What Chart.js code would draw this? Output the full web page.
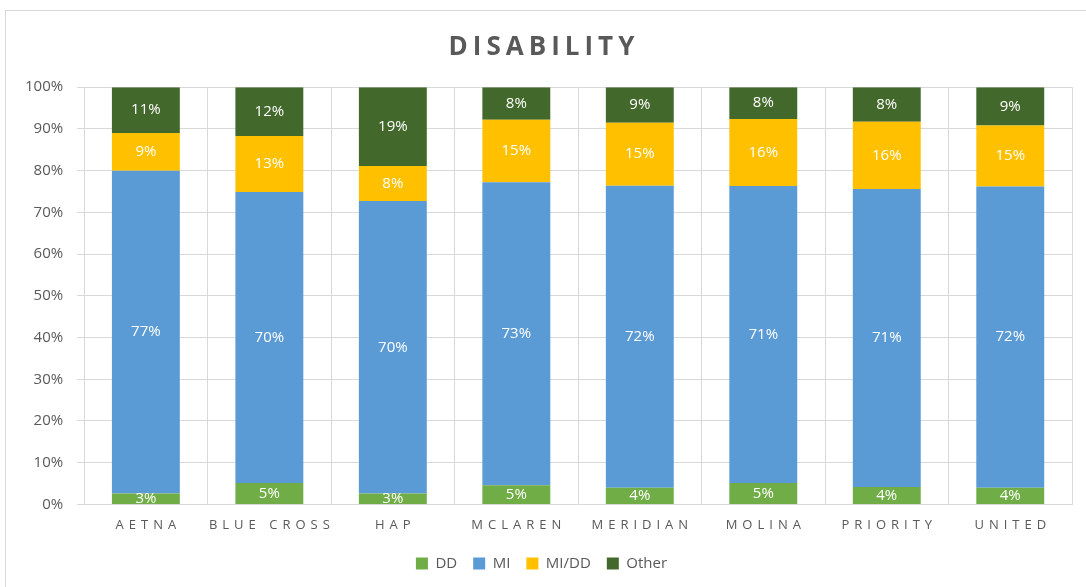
<!DOCTYPE html>
<html>
<head>
<meta charset="utf-8">
<title>Disability</title>
<script src="https://cdn.jsdelivr.net/npm/chart.js@4/dist/chart.umd.min.js"></script>
<style>
  html, body { margin: 0; padding: 0; background: #fff; overflow: hidden; }
  #frame { position: absolute; left: 5px; top: 10px; width: 1100px; height: 600px; border: 1px solid #d9d9d9; }
  #wrap { position: absolute; left: 0; top: 0; width: 1086px; height: 587px; }
</style>
</head>
<body>
<div id="frame"></div>
<div id="wrap"><canvas id="disabilityChart"></canvas></div>
<script>
// plans along the x axis
const plans = ["AETNA", "BLUE CROSS", "HAP", "MCLAREN", "MERIDIAN", "MOLINA", "PRIORITY", "UNITED"];

// share of members per plan (%)
const ddValues    = [2.6, 5.1, 2.6, 4.6, 4.0, 5.1, 4.2, 4.0];
const miValues    = [77.4, 69.8, 70.1, 72.6, 72.4, 71.2, 71.4, 72.2];
const middValues  = [9.0, 13.4, 8.4, 15.0, 15.1, 16.1, 16.1, 14.6];
const otherValues = [11.0, 11.7, 18.9, 7.8, 8.5, 7.6, 8.3, 9.2];

const yTicks = [0, 10, 20, 30, 40, 50, 60, 70, 80, 90, 100];

const textGray = "#595959";
const gridGray = "#d9d9d9";

// Excel style spaced capitals for the title and the plan names
const letterSpacingPlugin = {
  id: "letterSpacing",
  beforeDraw(chart) {
    const x = chart.scales.x;
    if (x && !x._spaced) {
      const orig = x.drawLabels;
      x.drawLabels = function (area) {
        const ctx = this.ctx;
        ctx.save();
        ctx.letterSpacing = "5px";
        ctx.translate(2.5, 0);
        orig.call(this, area);
        ctx.restore();
      };
      x._spaced = true;
    }
    const t = chart.titleBlock;
    if (t && !t._spaced) {
      const origT = t.draw;
      t.draw = function () {
        const ctx = this.ctx;
        ctx.save();
        ctx.letterSpacing = "5px";
        ctx.translate(2.5, 0);
        origT.call(this);
        ctx.restore();
      };
      t._spaced = true;
    }
  }
};

// percentage labels in the middle of each segment
const segmentLabels = {
  id: "segmentLabels",
  afterDatasetsDraw(chart) {
    const ctx = chart.ctx;
    const area = chart.chartArea;
    ctx.save();
    ctx.beginPath();
    ctx.rect(area.left, area.top, area.right - area.left, area.bottom - area.top);
    ctx.clip();
    ctx.font = "15px 'Open Sans'";
    ctx.fillStyle = "#ffffff";
    ctx.textAlign = "center";
    ctx.textBaseline = "middle";
    chart.data.datasets.forEach((ds, i) => {
      const meta = chart.getDatasetMeta(i);
      meta.data.forEach((bar, j) => {
        const v = ds.data[j];
        ctx.fillText(Math.round(v) + "%", bar.x, (bar.y + bar.base) / 2);
      });
    });
    ctx.restore();
  }
};

function renderChart() {
  const ctx = document.getElementById("disabilityChart").getContext("2d");

  new Chart(ctx, {
    type: "bar",
    data: {
      labels: plans,
      datasets: [
        { label: "DD", data: ddValues, backgroundColor: "#70ad47" },
        { label: "MI", data: miValues, backgroundColor: "#5b9bd5" },
        { label: "MI/DD", data: middValues, backgroundColor: "#ffc000" },
        { label: "Other", data: otherValues, backgroundColor: "#43682b" }
      ]
    },
    options: {
      responsive: true,
      maintainAspectRatio: false,
      animation: false,
      datasets: {
        bar: { categoryPercentage: 1, barPercentage: 0.55 }
      },
      layout: { padding: { left: 11, right: 14, top: 22, bottom: 6 } },
      scales: {
        x: {
          stacked: true,
          grid: { color: gridGray, offset: true, drawTicks: false },
          border: { color: gridGray },
          ticks: {
            color: textGray,
            padding: 13,
            font: { family: "'Open Sans'", size: 13 }
          },
          // pull the legend up closer to the plan names
          afterFit(scale) {
            scale.height -= 6;
          }
        },
        y: {
          stacked: true,
          min: 0,
          max: 100,
          afterBuildTicks(scale) {
            scale.ticks = yTicks.map(v => ({ value: v }));
          },
          grid: { color: gridGray, tickLength: 7 },
          border: { color: gridGray },
          ticks: {
            color: textGray,
            padding: 14,
            font: { family: "'Open Sans'", size: 15 },
            callback: v => v + "%"
          }
        }
      },
      plugins: {
        title: {
          display: true,
          text: "DISABILITY",
          color: textGray,
          font: { family: "'Open Sans'", size: 26, weight: "bold" },
          padding: { top: 10, bottom: 24 }
        },
        legend: {
          position: "bottom",
          labels: {
            color: textGray,
            boxWidth: 12,
            boxHeight: 12,
            padding: 16,
            font: { family: "'Open Sans'", size: 15 }
          }
        },
        tooltip: { enabled: false }
      }
    },
    plugins: [letterSpacingPlugin, segmentLabels]
  });
}

document.addEventListener("DOMContentLoaded", renderChart);
</script>
</body>
</html>
